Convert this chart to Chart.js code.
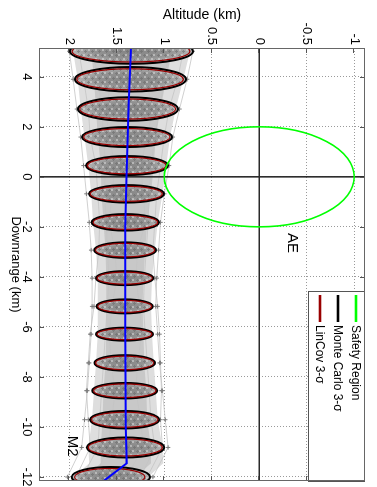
<!DOCTYPE html>
<html><head><meta charset="utf-8">
<script src="https://cdn.jsdelivr.net/npm/chart.js@4.4.0/dist/chart.umd.min.js"></script>
<style>
html,body{margin:0;padding:0;background:#fff;overflow:hidden;width:377px;height:487px;}
#wrap{position:absolute;left:0;top:0;width:487px;height:377px;transform-origin:0 0;transform:translate(377px,0) rotate(90deg);background:#fff;}
canvas{display:block;}
</style></head><body>
<div id="wrap"><canvas id="c" width="487" height="377" style="width:487px;height:377px"></canvas></div>
<script>
// ---- axes ----
const downLimits = [-12.16, 5.15];
const altLimits = [-1.113, 2.319];
const downTicks = [-12, -10, -8, -6, -4, -2, 0, 2, 4];
const altTicks = [-1, -0.5, 0, 0.5, 1, 1.5, 2];

// ---- 3-sigma ellipse stations (downrange km) ----
const stationDown = [5.02, 3.90, 2.71, 1.59, 0.45, -0.68, -1.82, -2.93, -4.05, -5.18, -6.29, -7.44, -8.55, -9.71, -10.82, -12.00];
// Monte Carlo 3-sigma
const mcAltCenter = [1.345, 1.356, 1.382, 1.393, 1.392, 1.398, 1.410, 1.412, 1.417, 1.417, 1.419, 1.417, 1.416, 1.417, 1.408, 1.563];
const mcAltSemi   = [0.648, 0.584, 0.526, 0.474, 0.432, 0.395, 0.354, 0.325, 0.302, 0.295, 0.300, 0.319, 0.342, 0.365, 0.408, 0.412];
const mcDownSemi  = [0.50, 0.49, 0.47, 0.40, 0.38, 0.35, 0.33, 0.31, 0.28, 0.28, 0.26, 0.31, 0.31, 0.35, 0.40, 0.40];
// LinCov 3-sigma
const linAltCenter = [1.350, 1.360, 1.385, 1.395, 1.395, 1.400, 1.410, 1.413, 1.417, 1.417, 1.419, 1.417, 1.416, 1.417, 1.410, 1.575];
const linAltSemi   = [0.620, 0.560, 0.505, 0.455, 0.415, 0.380, 0.340, 0.312, 0.290, 0.283, 0.288, 0.306, 0.328, 0.350, 0.390, 0.370];
const linDownSemi  = [0.43, 0.42, 0.40, 0.34, 0.33, 0.30, 0.28, 0.27, 0.24, 0.24, 0.22, 0.27, 0.27, 0.30, 0.34, 0.34];

// ---- nominal trajectory ----
const nominalDown = [5.15, 3.0, 0.0, -2.0, -6.0, -10.0, -11.45, -12.16];
const nominalAlt  = [1.350, 1.375, 1.397, 1.410, 1.412, 1.405, 1.395, 1.640];

// ---- Monte Carlo trajectory envelope (altitude, km) ----
const bandDown    = [5.15, 5.02, 3.90, 2.71, 1.59, 0.45, -0.68, -1.82, -2.93, -4.05, -5.18, -6.29, -7.44, -8.55, -9.71, -10.82, -11.45, -12.00, -12.16];
const bandOuterHi = [1.96, 1.96, 1.91, 1.88, 1.84, 1.80, 1.77, 1.75, 1.72, 1.70, 1.70, 1.70, 1.72, 1.74, 1.76, 1.80, 1.79, 1.95, 2.00];
const bandOuterLo = [0.73, 0.73, 0.80, 0.88, 0.94, 0.98, 1.02, 1.07, 1.10, 1.13, 1.14, 1.13, 1.11, 1.09, 1.07, 1.02, 1.01, 1.17, 1.22];
const bandInnerHi = [1.77, 1.77, 1.74, 1.72, 1.70, 1.67, 1.66, 1.64, 1.62, 1.61, 1.61, 1.61, 1.62, 1.64, 1.65, 1.67, 1.67, 1.83, 1.87];
const bandInnerLo = [0.92, 0.92, 0.98, 1.04, 1.09, 1.11, 1.14, 1.18, 1.20, 1.22, 1.23, 1.22, 1.21, 1.19, 1.18, 1.14, 1.14, 1.30, 1.34];

// ---- a few individual Monte Carlo runs (altitude at each station) ----
const run1 = [2.00, 1.96, 1.92, 1.88, 1.85, 1.82, 1.79, 1.77, 1.76, 1.76, 1.77, 1.79, 1.81, 1.84, 1.87, 2.02];
const run2 = [0.70, 0.76, 0.84, 0.91, 0.95, 1.00, 1.04, 1.06, 1.08, 1.09, 1.07, 1.05, 1.02, 0.99, 0.96, 1.12];
const run3 = [1.90, 1.85, 1.80, 1.78, 1.72, 1.70, 1.68, 1.69, 1.72, 1.74, 1.78, 1.80, 1.82, 1.80, 1.78, 1.93];
const run4 = [0.80, 0.86, 0.95, 1.00, 1.04, 1.08, 1.10, 1.12, 1.10, 1.07, 1.05, 1.04, 1.03, 1.04, 1.02, 1.18];
const run5 = [1.60, 1.55, 1.62, 1.58, 1.52, 1.55, 1.58, 1.52, 1.50, 1.55, 1.58, 1.56, 1.52, 1.55, 1.60, 1.72];
const run6 = [1.15, 1.20, 1.12, 1.18, 1.25, 1.22, 1.20, 1.28, 1.30, 1.26, 1.24, 1.28, 1.30, 1.25, 1.22, 1.40];
const run7 = [1.75, 1.70, 1.66, 1.64, 1.62, 1.63, 1.61, 1.60, 1.58, 1.60, 1.62, 1.64, 1.66, 1.68, 1.70, 1.86];
const run8 = [0.95, 1.00, 1.05, 1.10, 1.14, 1.16, 1.17, 1.19, 1.21, 1.22, 1.20, 1.18, 1.16, 1.14, 1.10, 1.25];

// ---- safety region ----
const safetyCenter = [0, 0];      // [downrange, altitude]
const safetySemi = [2.0, 1.0];    // [downrange, altitude]

// ---- legend & notes ----
const legendLabels = ['Safety Region', 'Monte Carlo 3-\u03C3', 'LinCov 3-\u03C3'];
const legendColors = ['#00ff00', '#000000', '#990000'];
const noteText = ['AE', 'M2'];
const noteDown = [-2.65, -10.77];
const noteAlt  = [-0.344, 1.975];

const F = "'Liberation Sans', Arial, Helvetica, sans-serif";
const pts = (xs, ys) => xs.map((v, i) => ({x: v, y: ys[i]}));

function ell(xs, ys, d, a, sd, sa) {
  const cx = xs.getPixelForValue(d), cy = ys.getPixelForValue(a);
  const rx = Math.abs(xs.getPixelForValue(d + sd) - cx);
  const ry = Math.abs(ys.getPixelForValue(a + sa) - cy);
  return {cx, cy, rx, ry};
}

// texture used to shade the dense sample clouds (style only)
function speckle(ctx) {
  const c = document.createElement('canvas'); c.width = 9; c.height = 7;
  const p = c.getContext('2d');
  p.strokeStyle = '#6a6a6a'; p.lineWidth = 1;
  p.beginPath();
  p.moveTo(0, 1.5); p.lineTo(3, 1.5); p.moveTo(1.5, 0); p.lineTo(1.5, 3);
  p.moveTo(5, 4.5); p.lineTo(8, 4.5); p.moveTo(6.5, 3); p.lineTo(6.5, 6);
  p.stroke();
  p.fillStyle = 'rgba(235,235,235,0.8)'; p.fillRect(4, 0, 2, 2); p.fillRect(0, 5, 2, 2);
  return ctx.createPattern(c, 'repeat');
}

const mcPlugin = {
  id: 'mc',
  beforeDatasetDraw(chart, args) {
    if (args.index !== 0) return;
    const {ctx, chartArea: ca, scales: {x, y}} = chart;
    ctx.save();
    ctx.beginPath(); ctx.rect(ca.left, ca.top, ca.right - ca.left, ca.bottom - ca.top); ctx.clip();
    // zero lines
    ctx.strokeStyle = '#2a2a2a'; ctx.lineWidth = 1.6;
    const x0 = x.getPixelForValue(0), y0 = y.getPixelForValue(0);
    ctx.beginPath();
    ctx.moveTo(x0, ca.top); ctx.lineTo(x0, ca.bottom);
    ctx.moveTo(ca.left, y0); ctx.lineTo(ca.right, y0);
    ctx.stroke();
    // sample clouds
    const pat = speckle(ctx);
    for (let i = 0; i < stationDown.length; i++) {
      const e = ell(x, y, stationDown[i], mcAltCenter[i], mcDownSemi[i], mcAltSemi[i]);
      ctx.save(); ctx.translate(e.cx, e.cy); ctx.scale(e.rx, e.ry);
      const g = ctx.createRadialGradient(0, 0, 0, 0, 0, 1);
      g.addColorStop(0, '#858585'); g.addColorStop(0.6, '#929292'); g.addColorStop(1, '#b8b8b8');
      ctx.fillStyle = g; ctx.beginPath(); ctx.arc(0, 0, 1, 0, Math.PI * 2); ctx.fill();
      ctx.restore();
      ctx.save(); ctx.globalAlpha = 0.55; ctx.fillStyle = pat;
      ctx.beginPath(); ctx.ellipse(e.cx, e.cy, e.rx * 0.97, e.ry * 0.95, 0, 0, Math.PI * 2); ctx.fill();
      ctx.restore();
    }
    // Monte Carlo ellipses
    ctx.strokeStyle = legendColors[1]; ctx.lineWidth = 2;
    for (let i = 0; i < stationDown.length; i++) {
      const e = ell(x, y, stationDown[i], mcAltCenter[i], mcDownSemi[i], mcAltSemi[i]);
      ctx.beginPath(); ctx.ellipse(e.cx, e.cy, e.rx, e.ry, 0, 0, Math.PI * 2); ctx.stroke();
    }
    // LinCov ellipses
    ctx.strokeStyle = legendColors[2]; ctx.lineWidth = 1.2;
    for (let i = 0; i < stationDown.length; i++) {
      const e = ell(x, y, stationDown[i], linAltCenter[i], linDownSemi[i], linAltSemi[i]);
      ctx.beginPath(); ctx.ellipse(e.cx, e.cy, e.rx, e.ry, 0, 0, Math.PI * 2); ctx.stroke();
    }
    // safety region
    const s = ell(x, y, safetyCenter[0], safetyCenter[1], safetySemi[0], safetySemi[1]);
    ctx.strokeStyle = legendColors[0]; ctx.lineWidth = 1.6;
    ctx.beginPath(); ctx.ellipse(s.cx, s.cy, s.rx, s.ry, 0, 0, Math.PI * 2); ctx.stroke();
    ctx.restore();
  },
  afterDraw(chart) {
    const {ctx, chartArea: ca, scales: {x, y}} = chart;
    ctx.save();
    // notes
    ctx.fillStyle = '#000'; ctx.font = '15px ' + F; ctx.textAlign = 'center'; ctx.textBaseline = 'middle';
    noteText.forEach((t, i) => ctx.fillText(t, x.getPixelForValue(noteDown[i]), y.getPixelForValue(noteAlt[i])));
    // inner tick marks
    ctx.strokeStyle = '#555'; ctx.lineWidth = 1;
    ctx.beginPath();
    downTicks.forEach(v => {
      const px = Math.round(x.getPixelForValue(v)) + 0.5;
      ctx.moveTo(px, ca.top); ctx.lineTo(px, ca.top + 5);
      ctx.moveTo(px, ca.bottom); ctx.lineTo(px, ca.bottom - 5);
    });
    altTicks.forEach(v => {
      const py = Math.round(y.getPixelForValue(v)) + 0.5;
      ctx.moveTo(ca.left, py); ctx.lineTo(ca.left + 5, py);
      ctx.moveTo(ca.right, py); ctx.lineTo(ca.right - 5, py);
    });
    ctx.stroke();
    // legend
    const lx = 291, ly = ca.top, lw = ca.right - lx, lh = 56;
    ctx.fillStyle = '#fff'; ctx.fillRect(lx, ly, lw, lh);
    ctx.strokeStyle = '#555'; ctx.lineWidth = 1;
    ctx.strokeRect(lx + 0.5, ly + 0.5, lw, lh);
    ctx.font = '12px ' + F; ctx.textAlign = 'left'; ctx.textBaseline = 'middle';
    legendLabels.forEach((t, i) => {
      const ry = ly + 9 + i * 18;
      ctx.strokeStyle = legendColors[i]; ctx.lineWidth = 2.6;
      ctx.beginPath(); ctx.moveTo(lx + 4, ry); ctx.lineTo(lx + 31, ry); ctx.stroke();
      ctx.fillStyle = '#000'; ctx.fillText(t, lx + 34, ry + 0.5);
    });
    // plot box
    ctx.strokeStyle = '#666'; ctx.lineWidth = 1;
    ctx.strokeRect(ca.left + 0.5, ca.top + 0.5, ca.right - ca.left - 1, ca.bottom - ca.top - 1);
    ctx.restore();
  }
};

const runStyle = (data, marks) => ({
  data, borderColor: '#c4c4c4', borderWidth: 0.8, fill: false,
  pointRadius: marks ? 2.2 : 0, pointStyle: 'cross', pointBorderColor: '#7a7a7a', pointBorderWidth: 1
});

new Chart(document.getElementById('c'), {
  type: 'line',
  data: {
    datasets: [
      {label: 'Nominal', data: pts(nominalDown, nominalAlt), borderColor: '#0000ff', borderWidth: 2, pointRadius: 0, fill: false},
      runStyle(pts(stationDown, run1), true),
      runStyle(pts(stationDown, run2), true),
      runStyle(pts(stationDown, run3), true),
      runStyle(pts(stationDown, run4), true),
      runStyle(pts(stationDown, run5), false),
      runStyle(pts(stationDown, run6), false),
      runStyle(pts(stationDown, run7), false),
      runStyle(pts(stationDown, run8), false),
      {data: pts(bandDown, bandInnerHi), borderWidth: 0, pointRadius: 0, fill: '+1', backgroundColor: '#c8c8c8'},
      {data: pts(bandDown, bandInnerLo), borderWidth: 0, pointRadius: 0, fill: false},
      {data: pts(bandDown, bandOuterHi), borderWidth: 0, pointRadius: 0, fill: '+1', backgroundColor: '#dedede'},
      {data: pts(bandDown, bandOuterLo), borderWidth: 0, pointRadius: 0, fill: false}
    ]
  },
  options: {
    responsive: false, animation: false, devicePixelRatio: 1,
    layout: {padding: {top: 12, right: 6, left: 0, bottom: 0}},
    plugins: {legend: {display: false}, tooltip: {enabled: false}},
    elements: {line: {tension: 0}},
    scales: {
      x: {
        type: 'linear', reverse: true, min: downLimits[0], max: downLimits[1],
        afterBuildTicks: s => { s.ticks = downTicks.map(v => ({value: v})); },
        afterFit: s => { s.height = 39; },
        ticks: {autoSkip: false, maxRotation: 0, minRotation: 0, padding: 5, color: '#000', font: {family: F, size: 13}, callback: v => String(v)},
        grid: {color: '#9a9a9a', lineWidth: 1, drawTicks: false},
        border: {display: false, dash: [1, 2]},
        title: {display: true, text: 'Downrange (km)', color: '#000', font: {family: F, size: 13}, padding: {top: 0, bottom: 7.5}}
      },
      y: {
        type: 'linear', reverse: true, min: altLimits[0], max: altLimits[1],
        afterBuildTicks: s => { s.ticks = altTicks.map(v => ({value: v})); },
        afterFit: s => { s.width = 48; },
        ticks: {autoSkip: false, padding: 3, color: '#000', font: {family: F, size: 13}, callback: v => String(v)},
        grid: {color: '#9a9a9a', lineWidth: 1, drawTicks: false},
        border: {display: false, dash: [1, 2]},
        title: {display: true, text: 'Altitude (km)', color: '#000', font: {family: F, size: 14}, padding: {top: 6.6, bottom: 0}}
      }
    }
  },
  plugins: [mcPlugin]
});
</script>
</body></html>
